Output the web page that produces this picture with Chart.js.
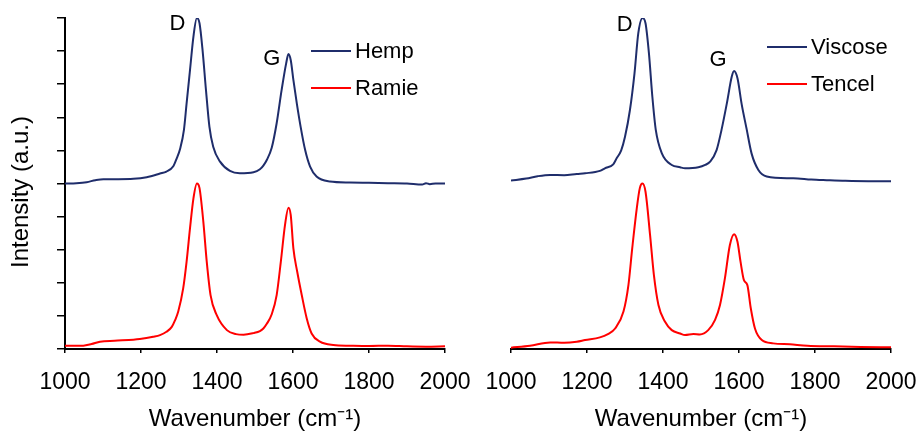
<!DOCTYPE html>
<html>
<head>
<meta charset="utf-8">
<script src="https://cdn.jsdelivr.net/npm/chart.js@4"></script>
<style>
  body { margin: 0; background: #fff; }
  #wrap { position: relative; width: 920px; height: 431px; overflow: hidden; }
  canvas { position: absolute; top: 0; }
</style>
</head>
<body>
<div id="wrap">
  <canvas id="left" width="480" height="431" style="left:0"></canvas>
  <canvas id="right" width="460" height="431" style="left:460px"></canvas>
</div>
<script>
// Raman spectra (intensity in a.u., stacked with offset)
const hempWn = [1000,1030,1057,1080,1101,1140,1180,1215,1250,1267,1285,1294,1303,1313,1320,1329,1338,1347,1354,1362,1371,1380,1390,1408,1434,1460,1496,1513,1522,1531,1544,1557,1570,1582,1588,1594,1601,1610,1620,1632,1645,1662,1697,1750,1800,1850,1900,1940,1950,1960,1975,2000];
const hempI  = [5.00,5.01,5.04,5.10,5.13,5.13,5.14,5.19,5.30,5.36,5.52,5.76,6.05,6.62,7.42,8.43,9.44,10.0,9.84,9.03,7.82,6.72,6.11,5.66,5.38,5.31,5.34,5.43,5.54,5.71,6.08,6.82,7.82,8.63,8.91,8.73,8.13,7.42,6.72,6.01,5.51,5.21,5.06,5.03,5.02,5.01,5.00,4.97,5.01,4.98,5.00,5.00];

const ramieWn = [1000,1048,1070,1092,1130,1180,1197,1232,1250,1267,1281,1290,1298,1311,1320,1329,1338,1347,1354,1364,1373,1383,1399,1426,1450,1470,1496,1513,1522,1531,1544,1557,1568,1579,1588,1594,1601,1611,1623,1636,1649,1671,1706,1750,1800,1850,1900,1950,2000];
const ramieI  = [0.10,0.10,0.15,0.22,0.25,0.28,0.30,0.37,0.42,0.52,0.67,0.88,1.13,1.83,2.64,3.65,4.55,5.00,4.86,3.85,2.64,1.63,1.03,0.57,0.45,0.43,0.48,0.54,0.62,0.76,1.05,1.63,2.64,3.75,4.27,4.05,3.04,2.34,1.63,0.93,0.47,0.22,0.12,0.10,0.09,0.10,0.08,0.07,0.08];

const viscoseWn = [1000,1040,1070,1103,1140,1173,1195,1234,1247,1269,1278,1290,1300,1313,1325,1335,1346,1354,1363,1372,1381,1397,1423,1445,1458,1493,1511,1524,1541,1554,1568,1581,1587,1596,1607,1620,1633,1651,1673,1726,1743,1790,1831,1880,1940,2000];
const viscoseI  = [5.09,5.15,5.22,5.26,5.25,5.29,5.31,5.38,5.46,5.58,5.76,6.00,6.41,7.22,8.33,9.54,10.0,9.84,8.93,7.62,6.62,5.91,5.56,5.49,5.46,5.49,5.56,5.66,6.01,6.62,7.42,8.23,8.40,8.18,7.40,6.65,5.91,5.41,5.21,5.16,5.16,5.12,5.10,5.08,5.07,5.07];

const tencelWn = [1000,1050,1103,1140,1173,1195,1234,1255,1274,1296,1309,1319,1331,1339,1346,1354,1366,1376,1388,1405,1423,1445,1458,1480,1497,1519,1537,1550,1563,1576,1587,1596,1604,1613,1622,1631,1642,1660,1690,1734,1780,1850,1920,2000];
const tencelI  = [0.04,0.10,0.20,0.19,0.22,0.27,0.35,0.45,0.62,1.13,1.93,3.04,4.25,4.86,5.00,4.75,3.44,2.24,1.33,0.83,0.57,0.47,0.42,0.45,0.44,0.57,0.88,1.33,2.14,3.14,3.47,3.24,2.64,2.08,1.93,1.23,0.62,0.27,0.17,0.14,0.10,0.08,0.06,0.05];

const xTicks = [1000, 1200, 1400, 1600, 1800, 2000];
const NAVY = '#1f2d6b';
const RED = '#ff0000';
const FONT = '"Liberation Sans", Arial, sans-serif';

Chart.defaults.font.family = FONT;
Chart.defaults.color = '#000';

const pts = (wn, I) => wn.map((x, i) => ({ x: x, y: I[i] }));

// legend drawn as a vertical list at a fixed place
const sideLegend = {
  id: 'sideLegend',
  afterDraw(chart, args, o) {
    const ctx = chart.ctx;
    ctx.save();
    ctx.font = '22px ' + FONT;
    ctx.textBaseline = 'middle';
    ctx.fillStyle = '#000';
    chart.data.datasets.forEach((ds, i) => {
      const y = o.y + i * o.gap;
      ctx.strokeStyle = ds.borderColor;
      ctx.lineWidth = 2;
      ctx.beginPath();
      ctx.moveTo(o.x, y);
      ctx.lineTo(o.x + 40, y);
      ctx.stroke();
      ctx.fillText(ds.label, o.x + 44, y + 1);
    });
    ctx.restore();
  }
};

// D / G band labels placed in data coordinates
const peakLabels = {
  id: 'peakLabels',
  afterDatasetsDraw(chart, args, o) {
    const ctx = chart.ctx;
    const { x, y } = chart.scales;
    ctx.save();
    ctx.font = '22px ' + FONT;
    ctx.textAlign = 'center';
    ctx.textBaseline = 'middle';
    ctx.fillStyle = '#000';
    o.items.forEach(it => ctx.fillText(it.text, x.getPixelForValue(it.wn), y.getPixelForValue(it.v)));
    ctx.restore();
  }
};

// vertical axis title, a bit below the axis middle like the original
const yTitle = {
  id: 'yTitle',
  afterDraw(chart, args, o) {
    if (!o.text) return;
    const ctx = chart.ctx;
    ctx.save();
    ctx.translate(o.x, o.y);
    ctx.rotate(-Math.PI / 2);
    ctx.font = '24px ' + FONT;
    ctx.textAlign = 'center';
    ctx.textBaseline = 'middle';
    ctx.fillStyle = '#000';
    ctx.fillText(o.text, 0, 0);
    ctx.restore();
  }
};

function makeChart(id, series, opt) {
  return new Chart(document.getElementById(id), {
    type: 'line',
    data: {
      datasets: series.map(s => ({
        label: s.label,
        data: pts(s.wn, s.I),
        borderColor: s.color,
        borderWidth: 2,
        pointRadius: 0,
        cubicInterpolationMode: 'monotone',
        fill: false
      }))
    },
    options: {
      responsive: false,
      animation: false,
      layout: { padding: opt.padding },
      plugins: {
        legend: { display: false },
        tooltip: { enabled: false },
        sideLegend: opt.legend,
        peakLabels: { items: opt.peaks },
        yTitle: opt.yTitle
      },
      scales: {
        x: {
          type: 'linear',
          min: 1000,
          max: 2000,
          afterBuildTicks: s => { s.ticks = xTicks.map(v => ({ value: v })); },
          ticks: { font: { size: 23 }, color: '#000', padding: 16, maxRotation: 0, callback: v => String(v) },
          grid: { drawOnChartArea: false, drawTicks: true, tickLength: 4, color: '#000', lineWidth: 1.5 },
          border: { display: true, color: '#000', width: 2 },
          title: { display: true, text: 'Wavenumber (cm⁻¹)', font: { size: 24, lineHeight: 1.0 }, padding: { top: 0, bottom: 0 } },
          // plot edges come from layout padding only
          afterFit: s => { s.height = 82; s.paddingLeft = 0; s.paddingRight = 0; }
        },
        y: {
          display: opt.showY,
          min: 0,
          max: 10,
          ticks: { display: false, stepSize: 1 },
          grid: { drawOnChartArea: false, drawTicks: true, tickLength: 8, color: '#000', lineWidth: 1.5 },
          border: { display: true, color: '#000', width: 2 },
          afterFit: s => { s.width = opt.showY ? 65 : 0; }
        }
      }
    },
    plugins: [sideLegend, peakLabels, yTitle]
  });
}

makeChart('left', [
  { label: 'Hemp', wn: hempWn, I: hempI, color: NAVY },
  { label: 'Ramie', wn: ramieWn, I: ramieI, color: RED }
], {
  showY: true,
  padding: { top: 18, right: 35, left: 0, bottom: 0 },
  legend: { x: 311, y: 51, gap: 37 },
  yTitle: { text: 'Intensity (a.u.)', x: 21, y: 192 },
  peaks: [{ text: 'D', wn: 1296, v: 9.82 }, { text: 'G', wn: 1544, v: 8.76 }]
});

makeChart('right', [
  { label: 'Viscose', wn: viscoseWn, I: viscoseI, color: NAVY },
  { label: 'Tencel', wn: tencelWn, I: tencelI, color: RED }
], {
  showY: false,
  padding: { top: 18, right: 29, left: 51, bottom: 0 },
  legend: { x: 307, y: 47, gap: 37 },
  yTitle: {},
  peaks: [{ text: 'D', wn: 1299, v: 9.79 }, { text: 'G', wn: 1545, v: 8.73 }]
});
</script>
</body>
</html>
